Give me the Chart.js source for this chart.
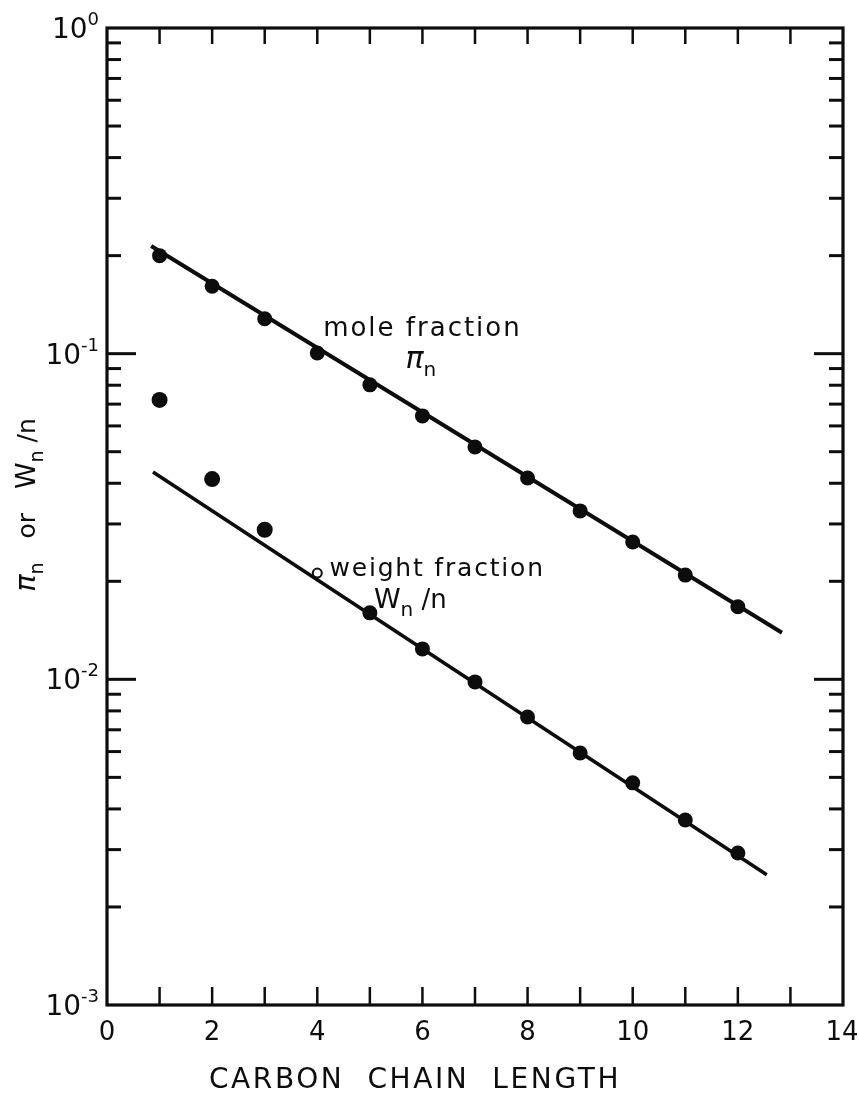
<!DOCTYPE html>
<html>
<head>
<meta charset="utf-8">
<title>Carbon chain length distribution</title>
<script src="https://cdn.jsdelivr.net/npm/chart.js@4.4.1/dist/chart.umd.min.js"></script>
<style>
  html, body { margin: 0; padding: 0; background: #ffffff; }
  #wrap { width: 859px; height: 1095px; position: relative; }
  canvas { display: block; }
</style>
</head>
<body>
<div id="wrap"><canvas id="chart" width="859" height="1095"></canvas></div>
<script>
// ---- data ----
const chainLength   = [1, 2, 3, 4, 5, 6, 7, 8, 9, 10, 11, 12];
const moleFraction  = [0.200, 0.161, 0.128, 0.1005, 0.0802, 0.0644, 0.0517, 0.0415, 0.0329, 0.0264, 0.0209, 0.0167];
const weightOverN   = [0.0721, 0.0412, 0.0288, 0.0212, 0.0160, 0.0124, 0.00982, 0.00766, 0.00594, 0.00481, 0.00370, 0.00293];

// straight-line fits on the log scale (end points)
const moleFitX   = [0.84, 12.84];
const moleFitY   = [0.214, 0.0139];
const weightFitX = [0.875, 12.55];
const weightFitY = [0.0433, 0.00251];

// axis labels
const xTickLabels    = ['0', '2', '4', '6', '8', '10', '12', '14'];
const yTickValues    = [1, 0.1, 0.01, 0.001];
const yTickExponents = ['0', '-1', '-2', '-3'];

const INK = '#0d0d0d';
const FONT = '"DejaVu Sans", "Liberation Sans", sans-serif';

const toPoints = (xs, ys) => xs.map((x, i) => ({ x, y: ys[i] }));

// draw a sequence of text runs (sizes, sub/superscripts) from a start point
function runsWidth(ctx, runs) {
  let total = 0;
  runs.forEach(r => {
    ctx.font = (r.italic ? 'italic ' : '') + r.size + 'px ' + FONT;
    ctx.letterSpacing = '0px';
    total += ctx.measureText(r.text).width + (r.spacing || 0) * r.text.length;
  });
  return total;
}
function drawRuns(ctx, runs, x, y, align) {
  const total = runsWidth(ctx, runs);
  let cx = align === 'center' ? x - total / 2 : align === 'right' ? x - total : x;
  ctx.textAlign = 'left';
  ctx.textBaseline = 'alphabetic';
  runs.forEach(r => {
    ctx.font = (r.italic ? 'italic ' : '') + r.size + 'px ' + FONT;
    ctx.letterSpacing = '0px';
    const w = ctx.measureText(r.text).width + (r.spacing || 0) * r.text.length;
    ctx.letterSpacing = (r.spacing || 0) + 'px';
    ctx.fillText(r.text, cx, y - (r.rise || 0));
    cx += w;
  });
  ctx.letterSpacing = '0px';
}

// curve annotations, anchored in data coordinates
const annotations = [
  { x: 6.0,  y: 0.1133, runs: [{ text: 'mole fraction', size: 26, spacing: 2 }] },
  { x: 5.97, y: 0.0905, runs: [{ text: 'π', size: 30, italic: true }, { text: 'n', size: 20, rise: -8 }] },
  { x: 6.28, y: 0.0207, runs: [{ text: 'weight fraction', size: 25, spacing: 1.8 }] },
  { x: 5.77, y: 0.01656, runs: [{ text: 'W', size: 27 }, { text: 'n', size: 20, rise: -8 }, { text: ' /', size: 26 }, { text: 'n', size: 26 }] }
];

// frame, inward ticks, tick labels and titles
const axesDecor = {
  id: 'axesDecor',
  afterDatasetsDraw(chart) {
    const { ctx, chartArea: a, scales: { x, y } } = chart;
    const seg = (x1, y1, x2, y2) => { ctx.beginPath(); ctx.moveTo(x1, y1); ctx.lineTo(x2, y2); ctx.stroke(); };
    ctx.save();
    ctx.strokeStyle = INK;
    ctx.fillStyle = INK;
    ctx.lineCap = 'square';

    // frame
    ctx.lineWidth = 3.2;
    ctx.strokeRect(a.left, a.top, a.right - a.left, a.bottom - a.top);

    // x ticks at every unit
    ctx.lineWidth = 2.5;
    ctx.lineCap = 'butt';
    for (let v = x.min + 1; v < x.max; v++) {
      const px = x.getPixelForValue(v);
      seg(px, a.bottom, px, a.bottom - 18);
      seg(px, a.top, px, a.top + 16);
    }
    // y log ticks
    ctx.lineWidth = 3;
    for (let d = -3; d < 0; d++) {
      for (let m = 1; m < 10; m++) {
        const v = m * Math.pow(10, d);
        if (v <= y.min * 1.0001 || v >= y.max * 0.9999) continue;
        const py = y.getPixelForValue(v);
        const len = m === 1 ? 29 : 14;
        seg(a.left, py, a.left + len, py);
        seg(a.right, py, a.right - len, py);
      }
    }

    // x tick labels
    ctx.font = '26px ' + FONT;
    ctx.textAlign = 'center';
    ctx.textBaseline = 'alphabetic';
    xTickLabels.forEach(lbl => {
      const px = x.getPixelForValue(Number(lbl));
      ctx.fillText(lbl, Math.min(px, 842), a.bottom + 35);
    });

    // y tick labels: powers of ten
    yTickValues.forEach((v, i) => {
      const py = y.getPixelForValue(v);
      drawRuns(ctx, [{ text: '10', size: 28 }, { text: yTickExponents[i], size: 18, rise: 13 }], a.left - 8, py + 10, 'right');
    });

    // x axis title
    drawRuns(ctx, [{ text: 'CARBON  CHAIN  LENGTH', size: 28, spacing: 2.6 }], (a.left + a.right) / 2 - 60, a.bottom + 83, 'center');

    // y axis title (rotated)
    ctx.save();
    ctx.translate(35, 505);
    ctx.rotate(-Math.PI / 2);
    drawRuns(ctx, [
      { text: 'π', size: 29, italic: true },
      { text: 'n', size: 19, rise: -8 },
      { text: '   or   ', size: 25 },
      { text: 'W', size: 27 },
      { text: 'n', size: 19, rise: -8 },
      { text: ' /', size: 25 },
      { text: 'n', size: 25 }
    ], 0, 0, 'center');
    ctx.restore();

    // curve annotations
    annotations.forEach(an => {
      drawRuns(ctx, an.runs, x.getPixelForValue(an.x), y.getPixelForValue(an.y), 'center');
    });

    ctx.restore();
  }
};

new Chart(document.getElementById('chart'), {
  type: 'scatter',
  data: {
    datasets: [
      {
        label: 'mole fraction fit',
        data: toPoints(moleFitX, moleFitY),
        showLine: true,
        borderColor: INK,
        borderWidth: 4,
        pointRadius: 0
      },
      {
        label: 'weight fraction fit',
        data: toPoints(weightFitX, weightFitY),
        showLine: true,
        borderColor: INK,
        borderWidth: 3.6,
        pointRadius: 0
      },
      {
        label: 'mole fraction',
        data: toPoints(chainLength, moleFraction),
        showLine: false,
        pointRadius: 7.5,
        pointBackgroundColor: INK,
        pointBorderColor: INK,
        pointBorderWidth: 0
      },
      {
        label: 'weight fraction / n',
        data: toPoints(chainLength, weightOverN),
        showLine: false,
        // the n = 4 sample is plotted as an open circle
        pointRadius: ctx => (ctx.dataIndex === 3 ? 4.5 : (ctx.dataIndex < 3 ? 8 : 7.5)),
        pointBackgroundColor: ctx => (ctx.dataIndex === 3 ? '#ffffff' : INK),
        pointBorderColor: INK,
        pointBorderWidth: ctx => (ctx.dataIndex === 3 ? 2 : 0)
      }
    ]
  },
  options: {
    responsive: false,
    animation: false,
    devicePixelRatio: 1,
    layout: { padding: { left: 107, top: 28, right: 16, bottom: 90 } },
    plugins: {
      legend: { display: false },
      tooltip: { enabled: false }
    },
    scales: {
      x: { type: 'linear', min: 0, max: 14, display: false },
      y: { type: 'logarithmic', min: 0.001, max: 1, display: false }
    }
  },
  plugins: [axesDecor]
});
</script>
</body>
</html>
